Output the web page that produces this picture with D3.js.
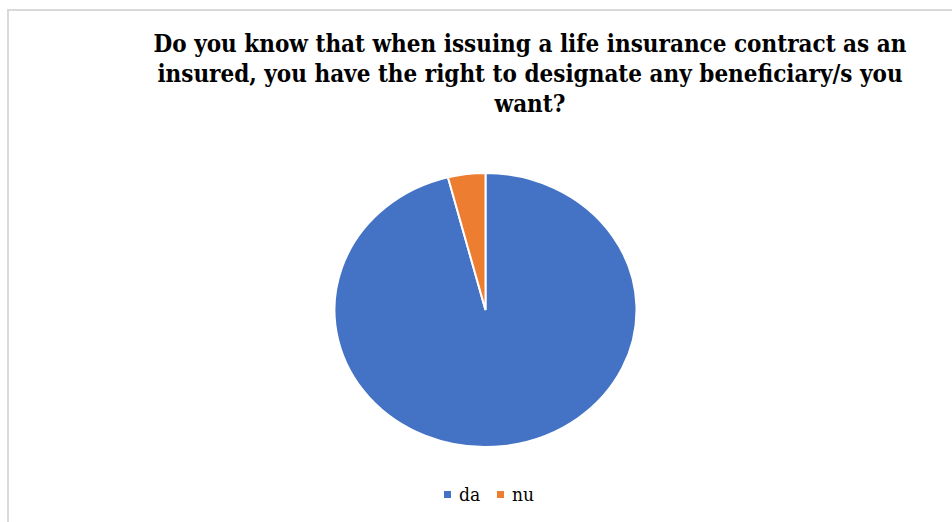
<!DOCTYPE html>
<html>
<head>
<meta charset="utf-8">
<script src="https://cdn.jsdelivr.net/npm/d3@7"></script>
<style>
  html, body { margin: 0; padding: 0; background: #fff; }
  svg { display: block; }
</style>
</head>
<body>
<svg id="chart" width="952" height="522"></svg>
<script>
const categories = ["da", "nu"];
const values = [96, 4];
const colors = ["#4472C4", "#ED7D31"];
const titleLines = [
  "Do you know that when issuing a life insurance contract as an",
  "insured, you have the right to designate any beneficiary/s you",
  "want?"
];

const svg = d3.select("#chart");
const W = 952, H = 522;

// chart frame (cropped)
svg.append("rect")
  .attr("x", 8).attr("y", 10)
  .attr("width", W + 20).attr("height", H + 20)
  .attr("fill", "#fff")
  .attr("stroke", "#d9d9d9").attr("stroke-width", 2);

// title
const titleFont = "'DejaVu Serif Condensed', 'DejaVu Serif', 'Liberation Serif', serif";
const title = svg.append("g");
const lineY = [52, 82, 112];
titleLines.forEach((t, i) => {
  title.append("text")
    .attr("x", 530).attr("y", lineY[i])
    .attr("text-anchor", "middle")
    .attr("font-family", titleFont)
    .attr("font-stretch", "condensed")
    .attr("font-weight", "bold")
    .attr("font-size", 20)
    .attr("fill", "#000")
    .text(t);
});
// fit first line width to reference (~753px)
const n0 = title.select("text").node();
const w0 = n0.getComputedTextLength();
const fs = Math.min(24, 20 * 753 / w0);
title.selectAll("text").attr("font-size", fs.toFixed(2));

// pie (stretched ellipse as in reference)
const cx = 485.5, cy = 310, rx = 151, ry = 137;
const pie = d3.pie().sort(null).value(d => d)(values);
const arc = d3.arc().innerRadius(0).outerRadius(rx);
const color = d3.scaleOrdinal().domain(categories).range(colors);

svg.append("g")
  .attr("transform", `translate(${cx},${cy}) scale(1,${ry / rx})`)
  .selectAll("path")
  .data(pie)
  .join("path")
  .attr("d", arc)
  .attr("fill", (d, i) => color(categories[i]))
  .attr("stroke", "#fff")
  .attr("stroke-width", 2)
  .attr("vector-effect", "non-scaling-stroke");

// legend
const legendFont = "'DejaVu Serif Condensed', 'DejaVu Serif', 'Liberation Serif', serif";
const legend = svg.append("g");
const legendX = [444, 497];
categories.forEach((c, i) => {
  const g = legend.append("g").attr("transform", `translate(${legendX[i]},491)`);
  g.append("rect").attr("width", 7).attr("height", 7).attr("fill", color(c));
  g.append("text")
    .attr("x", 15).attr("y", 10)
    .attr("font-family", legendFont)
    .attr("font-stretch", "condensed")
    .attr("font-size", 19)
    .attr("fill", "#000")
    .text(c);
});
</script>
</body>
</html>
